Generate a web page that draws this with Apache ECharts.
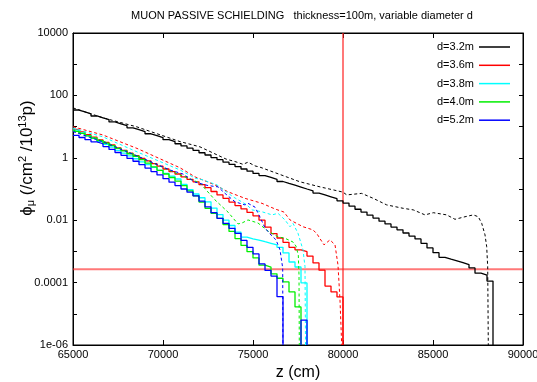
<!DOCTYPE html>
<html><head><meta charset="utf-8">
<script src="https://cdn.jsdelivr.net/npm/echarts@6/dist/echarts.min.js"></script>
<style>html,body{margin:0;padding:0;background:#fff}#c{width:537px;height:382px}</style>
</head><body><div id="c"></div>
<script>
// ---------------- data ----------------
const chartTitle = 'MUON PASSIVE SCHIELDING   thickness=100m, variable diameter d';
const seriesNames = ['d=3.2m', 'd=3.6m', 'd=3.8m', 'd=4.0m', 'd=5.2m'];
const seriesColors = ['#000000', '#ff0000', '#00ffff', '#00ee00', '#0000ff'];

// histogram binning (cm)
const BIN_START = 65000;
const BIN_WIDTH = 1000 / 3;

// solid histograms: one flux value per bin (null = empty bin)
const hist32 = [34, 29.5, 25.7, 21.9, 19.1, 16.6, 14.1, 12.3, 10.7, 9.12,
  7.94, 6.92, 5.89, 5.13, 4.47, 3.80, 3.31, 2.82, 2.40, 2.04,
  1.74, 1.45, 1.23, 1.02, 0.871, 0.724, 0.617, 0.525, 0.437, 0.372,
  0.316, 0.269, 0.234, 0.204, 0.174, 0.151, 0.132, 0.115, 0.100, 0.0871,
  0.0741, 0.0646, 0.0562, 0.0490, 0.0417, 0.0355, 0.0282, 0.0224, 0.0182, 0.0145,
  0.0117, 0.00933, 0.00759, 0.00603, 0.00490, 0.00389, 0.00309, 0.00251, 0.00182, 0.00129,
  0.000912, 0.000646, 0.000562, 0.000501, 0.000437, 0.000380, 0.000295, 0.000200, 0.000174, 0.000112];
const hist36 = [8.13, 6.76, 5.50, 4.57, 3.72, 3.09, 2.57, 2.09, 1.74, 1.41,
  1.17, 0.955, 0.794, 0.646, 0.537, 0.437, 0.363, 0.302, 0.245, 0.204,
  0.170, 0.138, 0.110, 0.0832, 0.0646, 0.0501, 0.0380, 0.0295, 0.0229, 0.0178,
  0.0138, 0.0100, 0.00603, 0.00372, 0.00269, 0.00195, 0.00135, 0.00112, 0.000977, 0.000708,
  0.000427, 0.000251, 0.0000776, 0.0000501, 0.0000347];
const hist38 = [7.76, 6.31, 5.13, 4.17, 3.31, 2.69, 2.19, 1.74, 1.41, 1.15,
  0.933, 0.741, 0.603, 0.490, 0.398, 0.316, 0.257, 0.209, 0.141, 0.0955,
  0.0692, 0.0525, 0.0389, 0.0245, 0.0151, 0.0100, 0.00676, 0.00417, 0.00288, 0.00251,
  0.00229, 0.00204, 0.00182, 0.00162, 0.00135, 0.000891, 0.000457, 0.000316, 0.0000977];
const hist40 = [7.08, 6.03, 5.01, 4.27, 3.55, 2.95, 2.45, 2.00, 1.66, 1.35,
  1.12, 0.871, 0.676, 0.513, 0.398, 0.302, 0.234, 0.178, 0.129, 0.0871,
  0.0603, 0.0380, 0.0240, 0.0166, 0.0115, 0.00724, 0.00437, 0.00257, 0.00155, 0.000977,
  0.000617, 0.000363, 0.000316, 0.000191, 0.000138, 0.000105, 0.0000501, 0.0000166];
const hist52 = [5.25, 4.47, 3.80, 3.24, 2.82, 2.29, 1.86, 1.48, 1.20, 0.955,
  0.776, 0.603, 0.468, 0.363, 0.282, 0.214, 0.166, 0.129, 0.100, 0.0794,
  0.0603, 0.0407, 0.0269, 0.0174, 0.0115, 0.00794, 0.00550, 0.00380, 0.00224, 0.00135,
  0.000832, 0.000398, 0.000245, 0.000162, 0.0000355, null, null, null, 0.0000063];

// dashed curves: [z (cm), flux]
const dash32 = [[65000, 39.8], [66667, 19.1], [68556, 9.77], [70944, 3.31], [72056, 2.24],
  [73500, 0.912], [74056, 0.741], [74444, 0.617], [74722, 0.724], [75111, 0.550], [75389, 0.501],
  [77611, 0.170], [78722, 0.117], [80000, 0.0794], [80206, 0.0646], [81039, 0.0724], [81683, 0.0501],
  [82428, 0.0309], [83350, 0.0240], [83906, 0.0214], [84556, 0.0148], [85017, 0.0174], [85761, 0.0148],
  [86222, 0.0107], [86778, 0.0129], [87239, 0.0148], [87517, 0.0129], [87706, 0.00794], [87889, 0.00339],
  [87983, 0.00141], [88039, 0.000324], [88072, 1e-6]];
const dash36 = [[65000, 9.9], [66667, 5.37], [68556, 2.00], [70944, 0.479], [71778, 0.245],
  [72889, 0.135], [73611, 0.0813], [74556, 0.0501], [75500, 0.0347], [76222, 0.0229], [76722, 0.0182],
  [77056, 0.0102], [77778, 0.00617], [78333, 0.00490], [78556, 0.00363], [78944, 0.00162], [79278, 0.00234],
  [79556, 0.00162], [79722, 0.000363], [79833, 0.0000275], [79928, 1e-6]];
const dash38 = [[65000, 8.91], [66667, 4.68], [68556, 1.55], [70944, 0.407], [71778, 0.224],
  [72222, 0.195], [73000, 0.135], [73889, 0.0562], [74667, 0.0309], [74944, 0.0214], [75500, 0.0186],
  [76056, 0.0148], [76389, 0.0166], [76778, 0.0102], [77056, 0.00617], [77222, 0.00794], [77500, 0.00380],
  [77778, 0.00112], [77889, 0.000324], [77917, 1e-6]];
const dash40 = [[65000, 7.76], [66667, 3.47], [68556, 1.15], [70944, 0.282], [72056, 0.155],
  [72889, 0.0447], [73611, 0.0182], [74167, 0.00759], [74389, 0.00813], [74722, 0.0102], [75278, 0.00813],
  [75833, 0.00447], [76389, 0.00295], [76778, 0.00263], [77222, 0.00200], [77389, 0.00148], [77517, 0.000759],
  [77556, 0.000174], [77572, 1e-6]];
const dash52 = [[65000, 6.92], [66667, 3.24], [68556, 1.15], [70389, 0.407], [71111, 0.302],
  [71778, 0.166], [72500, 0.129], [73056, 0.117], [73444, 0.0724], [74000, 0.0389], [74556, 0.0309],
  [74722, 0.0347], [75111, 0.0263], [75389, 0.0126], [75667, 0.00562], [75944, 0.00363], [76278, 0.00234],
  [76500, 0.00112], [76650, 0.000295], [76661, 1e-6]];

const xMin = 65000, xMax = 90000, xStep = 5000;
const yMin = 1e-6, yMax = 1e4;
const yTickValues = [1e-6, 1e-5, 1e-4, 1e-3, 1e-2, 1e-1, 1, 10, 100, 1000, 1e4];
const yLabelValues = [1e4, 100, 1, 0.01, 1e-4, 1e-6];
const yLabelTexts = ['10000', '100', '1', '0.01', '0.0001', '1e-06'];
const thresholdFlux = 2.7e-4;
const thresholdZ = 80000;

// ---------------- build ----------------
const FLOOR = yMin;
function histPoints(vals) {
  const pts = []; let prev = null;
  vals.forEach((v, i) => {
    const z0 = BIN_START + i * BIN_WIDTH, z1 = z0 + BIN_WIDTH;
    if (v == null) {
      if (prev != null) { pts.push([z0, FLOOR]); pts.push([z0, '-']); }
      prev = null; return;
    }
    if (prev == null && i > 0) pts.push([z0, FLOOR]);
    pts.push([z0, v], [z1, v]);
    prev = v;
  });
  if (prev != null) pts.push([BIN_START + vals.length * BIN_WIDTH, FLOOR]);
  return pts;
}
const hists = [hist32, hist36, hist38, hist40, hist52];
const dashes = [dash32, dash36, dash38, dash40, dash52];

const FONT = 'Liberation Sans, Arial, Helvetica, sans-serif';
const LIMIT_COLOR = 'rgba(255,30,30,0.6)';
const series = [];
// threshold lines (drawn first, under curves)
series.push({
  name: 'flux limit', type: 'line', data: [[xMin, thresholdFlux], [xMax, thresholdFlux]],
  symbol: 'none', animation: false, silent: true,
  lineStyle: { color: LIMIT_COLOR, width: 2 }, z: 2
});
series.push({
  name: 'z limit', type: 'line', data: [[thresholdZ, yMin], [thresholdZ, yMax]],
  symbol: 'none', animation: false, silent: true,
  lineStyle: { color: LIMIT_COLOR, width: 2 }, z: 2
});
for (let i = 0; i < 5; i++) {
  series.push({
    name: seriesNames[i], type: 'line', data: histPoints(hists[i]),
    symbol: 'none', showSymbol: false, connectNulls: false, animation: false,
    lineStyle: { color: seriesColors[i], width: 1.3 }, itemStyle: { color: seriesColors[i] },
    z: 3 + i
  });
  series.push({
    name: seriesNames[i] + ' (dashed)', type: 'line', data: dashes[i],
    symbol: 'none', showSymbol: false, animation: false,
    lineStyle: { color: seriesColors[i], width: 1, type: [3, 2.5] },
    z: 3 + i
  });
}

function yLabel(v) {
  const e = Math.round(Math.log10(v));
  const idx = yLabelValues.findIndex(t => Math.round(Math.log10(t)) === e);
  return idx >= 0 ? yLabelTexts[idx] : '';
}

const baseX = {
  type: 'value', min: xMin, max: xMax, interval: xStep,
  axisLine: { show: true, lineStyle: { color: '#000', width: 1 } },
  axisTick: { show: true, inside: true, length: 5, lineStyle: { color: '#000' } },
  splitLine: { show: false }
};
const baseY = {
  type: 'log', logBase: 10, min: yMin, max: yMax, splitNumber: 10,
  axisLine: { show: true, lineStyle: { color: '#000', width: 1 } },
  axisTick: { show: true, inside: true, length: 4, lineStyle: { color: '#000' }, customValues: yTickValues },
  splitLine: { show: false }
};

const option = {
  backgroundColor: '#fff',
  animation: false,
  title: {
    text: chartTitle, left: 297, top: 5, textAlign: 'center',
    textStyle: { fontFamily: FONT, fontSize: 11, fontWeight: 'normal', color: '#000' }
  },
  legend: {
    data: seriesNames, orient: 'vertical', right: 22, top: 35, align: 'right',
    icon: 'rect', itemWidth: 31, itemHeight: 1.5, itemGap: 4.3,
    textStyle: { fontFamily: FONT, fontSize: 11, color: '#000', lineHeight: 14 },
    selectedMode: false
  },
  grid: { left: 73, right: 14, top: 33, bottom: 37, containLabel: false, outerBoundsMode: 'none',
    show: true, borderColor: '#000', borderWidth: 1, backgroundColor: 'transparent' },
  xAxis: [
    Object.assign({}, baseX, {
      position: 'bottom',
      axisLabel: { fontFamily: FONT, fontSize: 11, color: '#000', margin: 4, formatter: v => String(v) },
      name: 'z (cm)', nameLocation: 'middle', nameGap: 17,
      nameTextStyle: { fontFamily: FONT, fontSize: 16, color: '#000' }
    }),
    Object.assign({}, baseX, { position: 'top', axisLabel: { show: false } })
  ],
  yAxis: [
    Object.assign({}, baseY, {
      position: 'left',
      axisLabel: { fontFamily: FONT, fontSize: 11, color: '#000', margin: 5, formatter: yLabel, customValues: yLabelValues }
    }),
    Object.assign({}, baseY, { position: 'right', axisLabel: { show: false } })
  ],
  graphic: [{
    type: 'text', x: 27, y: 158, rotation: Math.PI / 2,
    style: {
      text: '{m|ϕ}{sub|μ}{m| (/cm}{sup|2}{m| /10}{sup|13}{m|p)}',
      align: 'center', verticalAlign: 'middle',
      rich: {
        m: { fontFamily: FONT, fontSize: 17, lineHeight: 19, fill: '#000', verticalAlign: 'middle' },
        sup: { fontFamily: FONT, fontSize: 11, lineHeight: 11, fill: '#000', verticalAlign: 'top' },
        sub: { fontFamily: FONT, fontSize: 11, lineHeight: 11, fill: '#000', verticalAlign: 'bottom' }
      }
    }
  }],
  series: series
};

const chart = echarts.init(document.getElementById('c'), null, { renderer: 'canvas' });
chart.setOption(option);
</script>
</body></html>
